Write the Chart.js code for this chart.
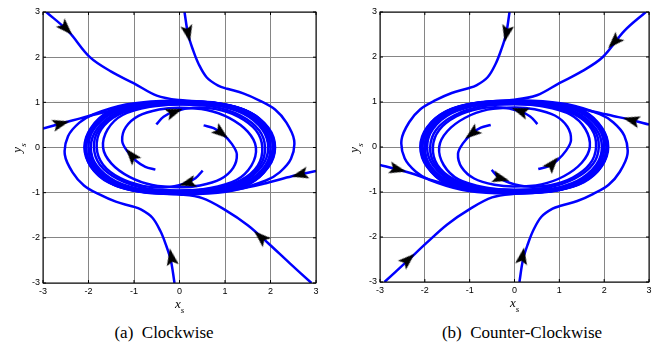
<!DOCTYPE html>
<html>
<head>
<meta charset="utf-8">
<script src="https://cdn.jsdelivr.net/npm/chart.js@4.4.0/dist/chart.umd.min.js"></script>
<style>
  body { margin: 0; background: #fff; }
  #wrap { position: relative; width: 667px; height: 352px; overflow: hidden; background: #fff; }
  canvas { position: absolute; top: 0; }
  .lbl { position: absolute; font-family: "Liberation Serif", serif; font-style: italic; font-size: 13px; line-height: 1; color: #000; white-space: nowrap; }
  .lbl sub { font-size: 9px; vertical-align: -5px; }
  .cap { position: absolute; top: 324px; width: 240px; text-align: center; font-family: "Liberation Serif", serif; font-size: 17px; line-height: 1; color: #000; white-space: pre; }
</style>
</head>
<body>
<div id="wrap">
  <canvas id="cw" width="333" height="300" style="left:0px"></canvas>
  <canvas id="ccw" width="330" height="300" style="left:337px"></canvas>
  <div class="lbl" style="left:175px; top:297px">x<sub>s</sub></div>
  <div class="lbl" style="left:510px; top:296px">x<sub>s</sub></div>
  <div class="lbl" style="left:19px; top:148px; transform: translate(-50%,-50%) rotate(-90deg)">y<sub>s</sub></div>
  <div class="lbl" style="left:356px; top:148px; transform: translate(-50%,-50%) rotate(-90deg)">y<sub>s</sub></div>
  <div class="cap" style="left:44px">(a)  Clockwise</div>
  <div class="cap" style="left:402px">(b)  Counter-Clockwise</div>
</div>
<script>
const axisTicks = [-3, -2, -1, 0, 1, 2, 3];

// (a) clockwise trajectories, [x, y]
const cwTopLeft = [[-2.93,3],[-2.45,2.58],[-1.97,2.0],[-1.5,1.68],[-1.0,1.42],[-0.5,1.15],[0,1.05],[0.8,0.99],[1.45,0.82],[1.9,0.45],[2.08,0],[1.92,-0.45],[1.45,-0.82],[0.7,-0.98],[0,-1.01],[-0.8,-0.98],[-1.45,-0.8],[-1.9,-0.45],[-2.06,0],[-1.9,0.45],[-1.45,0.82],[-0.7,0.98],[0,1.0],[0.7,0.98],[1.4,0.8],[1.85,0.43],[2.0,0]];
const cwTop = [[0.11,3],[0.19,2.5],[0.3,2.15],[0.42,1.85],[0.6,1.55],[0.85,1.37],[1.05,1.3],[1.4,1.2],[1.76,1.04],[2.1,0.84],[2.35,0.55],[2.52,0.16],[2.45,-0.25],[2.2,-0.55],[1.9,-0.73],[1.18,-0.95],[0.4,-1.03],[-0.4,-1.02],[-1.1,-0.93],[-1.6,-0.74],[-1.95,-0.42],[-2.09,0],[-1.95,0.43],[-1.55,0.8],[-0.9,0.97],[0,1.01],[0.9,0.97],[1.55,0.78],[1.95,0.42],[2.07,0],[1.95,-0.4]];
const cwLeft = [[-3,0.42],[-2.6,0.53],[-2.2,0.64],[-1.75,0.76],[-1.2,0.88],[-0.6,0.97],[0,1.02],[0.8,0.98],[1.5,0.8],[1.95,0.44],[2.1,0],[1.95,-0.44],[1.5,-0.82],[0.8,-0.98],[0,-1.01],[-0.8,-0.97],[-1.5,-0.78],[-1.92,-0.42],[-2.05,0],[-1.9,0.42],[-1.45,0.8],[-0.75,0.97],[0,1.0]];
const cwBottom = [[-0.11,-3],[-0.19,-2.5],[-0.3,-2.15],[-0.42,-1.85],[-0.6,-1.55],[-0.85,-1.37],[-1.05,-1.3],[-1.4,-1.2],[-1.76,-1.04],[-2.1,-0.84],[-2.35,-0.55],[-2.52,-0.16],[-2.45,0.25],[-2.2,0.55],[-1.9,0.73],[-1.18,0.95],[-0.4,1.03],[0.4,1.02],[1.1,0.93],[1.6,0.74],[1.95,0.42],[2.09,0],[1.95,-0.43],[1.55,-0.8],[0.9,-0.97],[0,-1.01],[-0.9,-0.97],[-1.55,-0.78],[-1.95,-0.42],[-2.07,0],[-1.95,0.4]];
const cwBottomRight = [[2.9,-3],[2.42,-2.56],[1.95,-2.12],[1.5,-1.72],[1.0,-1.38],[0.5,-1.12],[0,-1.04],[-0.8,-0.99],[-1.45,-0.82],[-1.9,-0.45],[-2.08,0],[-1.92,0.45],[-1.45,0.82],[-0.7,0.98],[0,1.01],[0.8,0.98],[1.45,0.8],[1.9,0.45],[2.06,0],[1.9,-0.43],[1.4,-0.8],[0.7,-0.97],[0,-1.0]];
const cwRight = [[3,-0.52],[2.64,-0.6],[2.3,-0.68],[1.9,-0.79],[1.3,-0.92],[0.6,-1.0],[0,-1.02],[-0.8,-0.98],[-1.5,-0.79],[-1.93,-0.43],[-2.07,0],[-1.93,0.43],[-1.5,0.82],[-0.8,0.98],[0,1.0],[0.8,0.97],[1.5,0.79],[1.92,0.42],[2.05,0],[1.9,-0.43]];
const cwInner1 = [[-0.51,0.51],[-0.35,0.68],[-0.1,0.8],[0.3,0.88],[0.8,0.85],[1.3,0.68],[1.68,0.38],[1.82,0],[1.72,-0.4],[1.35,-0.72],[0.75,-0.9],[0,-0.95],[-0.75,-0.9],[-1.35,-0.7],[-1.75,-0.38],[-1.88,0],[-1.78,0.38],[-1.4,0.72],[-0.75,0.93],[0,0.99],[0.8,0.96],[1.45,0.77],[1.88,0.41],[2.0,0],[1.88,-0.41],[1.45,-0.78],[0.8,-0.96],[0,-1.0]];
const cwInner2 = [[0.53,0.49],[0.75,0.43],[0.95,0.3],[1.15,0.08],[1.26,-0.15],[1.18,-0.45],[0.9,-0.7],[0.45,-0.84],[0,-0.88],[-0.6,-0.83],[-1.1,-0.65],[-1.5,-0.35],[-1.68,0],[-1.58,0.4],[-1.25,0.72],[-0.65,0.9],[0,0.96],[0.75,0.94],[1.4,0.75],[1.82,0.4],[1.95,0],[1.82,-0.4],[1.4,-0.76],[0.75,-0.95],[0,-1.0],[-0.75,-0.97],[-1.4,-0.78],[-1.85,-0.4],[-1.98,0]];
const cwInner3 = [[0.51,-0.51],[0.35,-0.68],[0.1,-0.8],[-0.3,-0.88],[-0.8,-0.85],[-1.3,-0.68],[-1.68,-0.38],[-1.82,0],[-1.72,0.4],[-1.35,0.72],[-0.75,0.9],[0,0.95],[0.75,0.9],[1.35,0.7],[1.75,0.38],[1.88,0],[1.78,-0.38],[1.4,-0.72],[0.75,-0.93],[0,-0.99],[-0.8,-0.96],[-1.45,-0.77],[-1.88,-0.41],[-2.0,0],[-1.88,0.41],[-1.45,0.78],[-0.8,0.96],[0,1.0]];
const cwInner4 = [[-0.53,-0.49],[-0.75,-0.43],[-0.95,-0.3],[-1.15,-0.08],[-1.26,0.15],[-1.18,0.45],[-0.9,0.7],[-0.45,0.84],[0,0.88],[0.6,0.83],[1.1,0.65],[1.5,0.35],[1.68,0],[1.58,-0.4],[1.25,-0.72],[0.65,-0.9],[0,-0.96],[-0.75,-0.94],[-1.4,-0.75],[-1.82,-0.4],[-1.95,0],[-1.82,0.4],[-1.4,0.76],[-0.75,0.95],[0,1.0],[0.75,0.97],[1.4,0.78],[1.85,0.4],[1.98,0]];
const cwArrowPts = [[-2.49,2.63],[0.19,2.52],[-2.6,0.53],[-0.18,-2.42],[1.78,-1.98],[2.64,-0.6],[-0.11,0.79],[0.92,0.32],[0.17,-0.79],[-1.06,-0.17]];
const cwArrowDir = [46, 78, -15, -100, -138, 166, -20, 38, 165, -130];

// (b) counter-clockwise trajectories, [x, y]
const ccwTopRight = [[2.93,3],[2.45,2.58],[1.97,2.0],[1.5,1.68],[1.0,1.42],[0.5,1.15],[0,1.05],[-0.8,0.99],[-1.45,0.82],[-1.9,0.45],[-2.08,0],[-1.92,-0.45],[-1.45,-0.82],[-0.7,-0.98],[0,-1.01],[0.8,-0.98],[1.45,-0.8],[1.9,-0.45],[2.06,0],[1.9,0.45],[1.45,0.82],[0.7,0.98],[0,1.0],[-0.7,0.98],[-1.4,0.8],[-1.85,0.43],[-2.0,0]];
const ccwTop = [[-0.11,3],[-0.19,2.5],[-0.3,2.15],[-0.42,1.85],[-0.6,1.55],[-0.85,1.37],[-1.05,1.3],[-1.4,1.2],[-1.76,1.04],[-2.1,0.84],[-2.35,0.55],[-2.52,0.16],[-2.45,-0.25],[-2.2,-0.55],[-1.9,-0.73],[-1.18,-0.95],[-0.4,-1.03],[0.4,-1.02],[1.1,-0.93],[1.6,-0.74],[1.95,-0.42],[2.09,0],[1.95,0.43],[1.55,0.8],[0.9,0.97],[0,1.01],[-0.9,0.97],[-1.55,0.78],[-1.95,0.42],[-2.07,0],[-1.95,-0.4]];
const ccwRight = [[3,0.5],[2.6,0.6],[2.2,0.69],[1.75,0.79],[1.2,0.9],[0.6,0.98],[0,1.02],[-0.8,0.98],[-1.5,0.8],[-1.95,0.44],[-2.1,0],[-1.95,-0.44],[-1.5,-0.82],[-0.8,-0.98],[0,-1.01],[0.8,-0.97],[1.5,-0.78],[1.92,-0.42],[2.05,0],[1.9,0.42],[1.45,0.8],[0.75,0.97],[0,1.0]];
const ccwBottom = [[0.11,-3],[0.19,-2.5],[0.3,-2.15],[0.42,-1.85],[0.6,-1.55],[0.85,-1.37],[1.05,-1.3],[1.4,-1.2],[1.76,-1.04],[2.1,-0.84],[2.35,-0.55],[2.52,-0.16],[2.45,0.25],[2.2,0.55],[1.9,0.73],[1.18,0.95],[0.4,1.03],[-0.4,1.02],[-1.1,0.93],[-1.6,0.74],[-1.95,0.42],[-2.09,0],[-1.95,-0.43],[-1.55,-0.8],[-0.9,-0.97],[0,-1.01],[0.9,-0.97],[1.55,-0.78],[1.95,-0.42],[2.07,0],[1.95,0.4]];
const ccwBottomLeft = [[-2.9,-3],[-2.42,-2.56],[-1.95,-2.12],[-1.5,-1.72],[-1.0,-1.38],[-0.5,-1.12],[0,-1.04],[0.8,-0.99],[1.45,-0.82],[1.9,-0.45],[2.08,0],[1.92,0.45],[1.45,0.82],[0.7,0.98],[0,1.01],[-0.8,0.98],[-1.45,0.8],[-1.9,0.45],[-2.06,0],[-1.9,-0.43],[-1.4,-0.8],[-0.7,-0.97],[0,-1.0]];
const ccwLeft = [[-3,-0.4],[-2.6,-0.5],[-2.25,-0.6],[-1.9,-0.72],[-1.3,-0.88],[-0.6,-0.98],[0,-1.02],[0.8,-0.98],[1.5,-0.79],[1.93,-0.43],[2.07,0],[1.93,0.43],[1.5,0.82],[0.8,0.98],[0,1.0],[-0.8,0.97],[-1.5,0.79],[-1.92,0.42],[-2.05,0],[-1.9,-0.43]];
const ccwInner1 = [[0.51,0.51],[0.35,0.68],[0.1,0.8],[-0.3,0.88],[-0.8,0.85],[-1.3,0.68],[-1.68,0.38],[-1.82,0],[-1.72,-0.4],[-1.35,-0.72],[-0.75,-0.9],[0,-0.95],[0.75,-0.9],[1.35,-0.7],[1.75,-0.38],[1.88,0],[1.78,0.38],[1.4,0.72],[0.75,0.93],[0,0.99],[-0.8,0.96],[-1.45,0.77],[-1.88,0.41],[-2.0,0],[-1.88,-0.41],[-1.45,-0.78],[-0.8,-0.96],[0,-1.0]];
const ccwInner2 = [[-0.53,0.49],[-0.75,0.43],[-0.95,0.3],[-1.15,0.08],[-1.26,-0.15],[-1.18,-0.45],[-0.9,-0.7],[-0.45,-0.84],[0,-0.88],[0.6,-0.83],[1.1,-0.65],[1.5,-0.35],[1.68,0],[1.58,0.4],[1.25,0.72],[0.65,0.9],[0,0.96],[-0.75,0.94],[-1.4,0.75],[-1.82,0.4],[-1.95,0],[-1.82,-0.4],[-1.4,-0.76],[-0.75,-0.95],[0,-1.0],[0.75,-0.97],[1.4,-0.78],[1.85,-0.4],[1.98,0]];
const ccwInner3 = [[-0.51,-0.51],[-0.35,-0.68],[-0.1,-0.8],[0.3,-0.88],[0.8,-0.85],[1.3,-0.68],[1.68,-0.38],[1.82,0],[1.72,0.4],[1.35,0.72],[0.75,0.9],[0,0.95],[-0.75,0.9],[-1.35,0.7],[-1.75,0.38],[-1.88,0],[-1.78,-0.38],[-1.4,-0.72],[-0.75,-0.93],[0,-0.99],[0.8,-0.96],[1.45,-0.77],[1.88,-0.41],[2.0,0],[1.88,0.41],[1.45,0.78],[0.8,0.96],[0,1.0]];
const ccwInner4 = [[0.53,-0.49],[0.75,-0.43],[0.95,-0.3],[1.15,-0.08],[1.26,0.15],[1.18,0.45],[0.9,0.7],[0.45,0.84],[0,0.88],[-0.6,0.83],[-1.1,0.65],[-1.5,0.35],[-1.68,0],[-1.58,-0.4],[-1.25,-0.72],[-0.65,-0.9],[0,-0.96],[0.75,-0.94],[1.4,-0.75],[1.82,-0.4],[1.95,0],[1.82,0.4],[1.4,0.76],[0.75,0.95],[0,1.0],[-0.75,0.97],[-1.4,0.78],[-1.85,0.4],[-1.98,0]];
const ccwArrowPts = [[2.22,2.33],[-0.18,2.52],[2.6,0.6],[0.18,-2.42],[-2.37,-2.5],[-2.6,-0.5],[0.12,0.8],[-0.95,0.3],[-0.3,-0.7],[0.85,-0.37]];
const ccwArrowDir = [134, 102, 195, -80, -42, 14, 200, 142, 15, -50];

// black arrow head pointing right, rotated per point
function arrowHead() {
  const c = document.createElement("canvas");
  c.width = 17;
  c.height = 13;
  const g = c.getContext("2d");
  g.fillStyle = "#000";
  g.beginPath();
  g.moveTo(17, 6.5);
  g.lineTo(0, 0.5);
  g.lineTo(3.5, 6.5);
  g.lineTo(0, 12.5);
  g.closePath();
  g.fill();
  return c;
}
const head = arrowHead();

// box and inward ticks like matlab
const frame = {
  id: "frame",
  afterDatasetsDraw(chart) {
    const { ctx, chartArea: a, scales } = chart;
    ctx.save();
    ctx.strokeStyle = "#000";
    ctx.lineWidth = 1;
    ctx.strokeRect(a.left, a.top, a.right - a.left, a.bottom - a.top);
    ctx.beginPath();
    axisTicks.forEach((v) => {
      const x = scales.x.getPixelForValue(v);
      const y = scales.y.getPixelForValue(v);
      ctx.moveTo(x, a.bottom); ctx.lineTo(x, a.bottom - 3);
      ctx.moveTo(x, a.top); ctx.lineTo(x, a.top + 3);
      ctx.moveTo(a.left, y); ctx.lineTo(a.left + 3, y);
      ctx.moveTo(a.right, y); ctx.lineTo(a.right - 3, y);
    });
    ctx.stroke();
    ctx.restore();
  },
};

function axisOpts(fit) {
  return {
    type: "linear",
    min: -3,
    max: 3,
    afterBuildTicks: (s) => { s.ticks = axisTicks.map((v) => ({ value: v })); },
    afterFit: fit,
    grid: { color: "#858585", lineWidth: 1, drawTicks: false },
    border: { display: false },
    ticks: { color: "#000", font: { family: "Liberation Sans", size: 9 }, padding: 3, maxRotation: 0 },
  };
}

function drawPlot(id, curves, arrowPts, arrowDir, pad) {
  const datasets = curves.map((pts) => ({
    data: pts,
    showLine: true,
    borderColor: "#0000ff",
    borderWidth: 2.5,
    pointRadius: 0,
    tension: 0.35,
    fill: false,
    order: 2,
  }));
  datasets.push({
    data: arrowPts,
    showLine: false,
    pointStyle: head,
    pointRadius: 5,
    pointRotation: arrowDir,
    order: 1,
  });

  new Chart(document.getElementById(id), {
    type: "scatter",
    data: { datasets: datasets },
    options: {
      responsive: false,
      animation: false,
      layout: { padding: { top: pad.top, right: pad.right, left: 0, bottom: 0 } },
      plugins: { legend: { display: false }, tooltip: { enabled: false } },
      scales: {
        x: axisOpts((s) => { s.height = pad.bottom; }),
        y: axisOpts((s) => { s.width = pad.left; }),
      },
    },
    plugins: [frame],
  });
}

drawPlot("cw",
  [cwTopLeft, cwTop, cwLeft, cwBottom, cwBottomRight, cwRight, cwInner1, cwInner2, cwInner3, cwInner4],
  cwArrowPts, cwArrowDir, { left: 43, top: 12, right: 17, bottom: 17 });

drawPlot("ccw",
  [ccwTopRight, ccwTop, ccwRight, ccwBottom, ccwBottomLeft, ccwLeft, ccwInner1, ccwInner2, ccwInner3, ccwInner4],
  ccwArrowPts, ccwArrowDir, { left: 43, top: 12, right: 18, bottom: 18 });
</script>
</body>
</html>
